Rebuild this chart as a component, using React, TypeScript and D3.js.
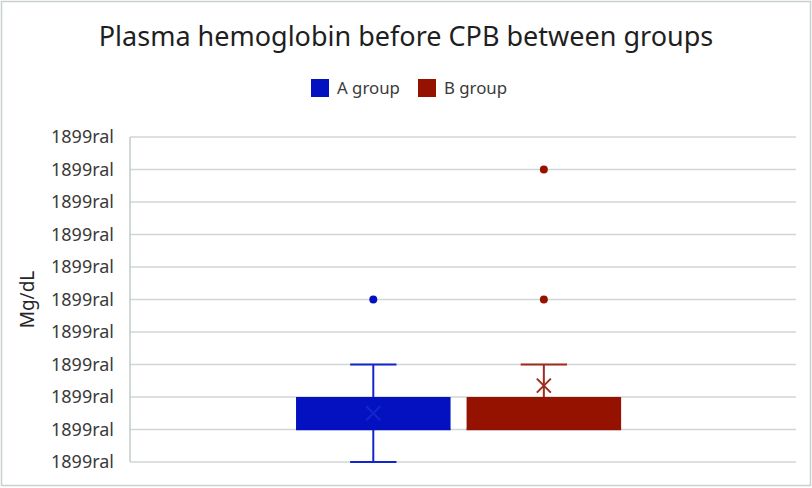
import { useRef, useEffect } from "react";
import * as d3 from "d3";

// Datos (escala del eje: 0..10, etiquetas rotas de Excel)
const groups = ["A group", "B group"];
const colors = ["#0311c1", "#951100"];
const whiskerColors = ["#1326cc", "#a02a1c"];
const mins = [0, 1];
const q1s = [1, 1];
const medians = [1, 1];
const q3s = [2, 2];
const maxs = [3, 3];
const means = [1.5, 2.35];
const outliers = [[5], [5, 9]];
const yTicks = [0, 1, 2, 3, 4, 5, 6, 7, 8, 9, 10];
const yTickLabels = yTicks.map(() => "1899ral");
const category = ["Plasma"];

const FONT = "'Noto Sans', 'Open Sans', sans-serif";

const BoxPlot = () => {
  const svgRef = useRef<SVGSVGElement>(null);

  useEffect(() => {
    const svg = d3.select(svgRef.current);
    const width = 812;
    const height = 488;
    const margin = { top: 137, right: 16, bottom: 26, left: 130 };
    const innerWidth = width - margin.left - margin.right;
    const innerHeight = height - margin.top - margin.bottom;

    svg.selectAll("*").remove();
    svg.attr("width", width).attr("height", height);

    // Marco exterior
    svg
      .append("rect")
      .attr("x", 1.5)
      .attr("y", 1.5)
      .attr("width", width - 3)
      .attr("height", height - 4)
      .attr("fill", "white")
      .attr("stroke", "#c9d1d0")
      .attr("stroke-width", 1.5);

    const g = svg
      .append("g")
      .attr("transform", `translate(${margin.left},${margin.top})`);

    const yScale = d3.scaleLinear().domain([0, 10]).range([innerHeight, 0]);

    const x0 = d3
      .scaleBand()
      .domain(category)
      .range([0, innerWidth])
      .padding(0.344)
      .align(0.487);

    const x1 = d3
      .scaleBand()
      .domain(groups)
      .range([0, x0.bandwidth()])
      .paddingInner(0.094)
      .paddingOuter(0);

    // Cuadrícula
    g.append("g")
      .selectAll("line")
      .data(yTicks)
      .join("line")
      .attr("x1", 0)
      .attr("x2", innerWidth)
      .attr("y1", (d) => yScale(d))
      .attr("y2", (d) => yScale(d))
      .attr("stroke", "#d0d7d6")
      .attr("stroke-width", 1.5);

    // Eje Y
    g.append("line")
      .attr("x1", 0)
      .attr("x2", 0)
      .attr("y1", 0)
      .attr("y2", innerHeight)
      .attr("stroke", "#c2cbca")
      .attr("stroke-width", 1.5);

    g.append("g")
      .selectAll("text")
      .data(yTicks)
      .join("text")
      .attr("x", -16)
      .attr("y", (d) => yScale(d))
      .attr("dy", "0.35em")
      .attr("text-anchor", "end")
      .attr("font-family", FONT)
      .attr("font-size", "18px")
      .attr("fill", "#3a3a3a")
      .text((_, i) => yTickLabels[i]);

    svg
      .append("text")
      .attr("transform", `translate(34, ${margin.top + innerHeight / 2}) rotate(-90)`)
      .attr("text-anchor", "middle")
      .attr("font-family", FONT)
      .attr("font-size", "19px")
      .attr("fill", "#262626")
      .text("Mg/dL");

    // Cajas
    groups.forEach((grp, i) => {
      const bx = (x0(category[0]) ?? 0) + (x1(grp) ?? 0);
      const bw = x1.bandwidth();
      const cx = bx + bw / 2;
      const capW = bw * 0.3;

      // Bigotes
      const wg = g.append("g").attr("stroke", whiskerColors[i]).attr("stroke-width", 2);
      wg.append("line")
        .attr("x1", cx)
        .attr("x2", cx)
        .attr("y1", yScale(maxs[i]))
        .attr("y2", yScale(q3s[i]));
      wg.append("line")
        .attr("x1", cx)
        .attr("x2", cx)
        .attr("y1", yScale(q1s[i]))
        .attr("y2", yScale(mins[i]));
      [maxs[i], mins[i]].forEach((v, k) => {
        if (k === 1 && mins[i] === q1s[i]) return;
        wg.append("line")
          .attr("x1", cx - capW / 2)
          .attr("x2", cx + capW / 2)
          .attr("y1", yScale(v))
          .attr("y2", yScale(v));
      });

      g.append("rect")
        .attr("x", bx)
        .attr("y", yScale(q3s[i]))
        .attr("width", bw)
        .attr("height", yScale(q1s[i]) - yScale(q3s[i]))
        .attr("fill", colors[i]);

      g.append("line")
        .attr("x1", bx)
        .attr("x2", bx + bw)
        .attr("y1", yScale(medians[i]))
        .attr("y2", yScale(medians[i]))
        .attr("stroke", colors[i])
        .attr("stroke-width", 1.5);

      // Media (X)
      const my = yScale(means[i]);
      const s = 7;
      g.append("path")
        .attr("d", `M${cx - s},${my - s}L${cx + s},${my + s}M${cx - s},${my + s}L${cx + s},${my - s}`)
        .attr("stroke", whiskerColors[i])
        .attr("stroke-width", 2)
        .attr("fill", "none");

      // Atípicos
      g.append("g")
        .selectAll("circle")
        .data(outliers[i])
        .join("circle")
        .attr("cx", cx)
        .attr("cy", (d) => yScale(d))
        .attr("r", 4)
        .attr("fill", colors[i]);
    });

    // Leyenda
    const legend = svg.append("g").attr("transform", "translate(311, 79)");
    const legendX = [0, 107];
    groups.forEach((grp, i) => {
      const row = legend.append("g").attr("transform", `translate(${legendX[i]}, 0)`);
      row.append("rect").attr("width", 18).attr("height", 18).attr("fill", colors[i]);
      row
        .append("text")
        .attr("x", 26)
        .attr("y", 9)
        .attr("dy", "0.35em")
        .attr("font-family", FONT)
        .attr("font-size", "16.8px")
        .attr("fill", "#3a3a3a")
        .text(grp);
    });

    // Título
    svg
      .append("text")
      .attr("x", 406)
      .attr("y", 46)
      .attr("text-anchor", "middle")
      .attr("font-family", FONT)
      .attr("font-size", "27px")
      .attr("fill", "#1f1f1f")
      .text("Plasma hemoglobin before CPB between groups");
  }, []);

  return <svg ref={svgRef} style={{ display: "block" }}></svg>;
};

export default function App() {
  return (
    <div style={{ position: "absolute", left: 0, top: 0 }}>
      <BoxPlot />
    </div>
  );
}
